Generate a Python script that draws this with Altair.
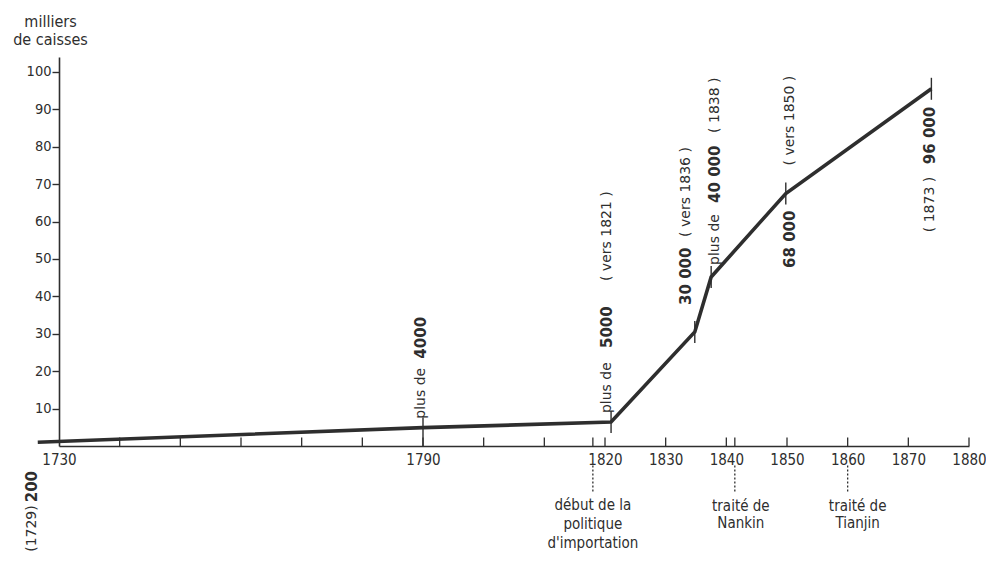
import altair as alt
import pandas as pd

# ---- data (year, thousands of chests) ----
years = [1726.5, 1790, 1821, 1834.8, 1837.5, 1849.8, 1873.8]
values = [1.0, 4.9, 6.4, 30.5, 45.2, 67.5, 95.5]

x_label_years = [1730, 1790, 1820, 1830, 1840, 1850, 1860, 1870, 1880]
y_tick_values = [10, 20, 30, 40, 50, 60, 70, 80, 90, 100]
minor_tick_years = [1740, 1750, 1760, 1770, 1780, 1790, 1800, 1810, 1818, 1820,
                    1830, 1840, 1841.4, 1850, 1860, 1870, 1880]
event_years = [1818, 1841.4, 1860]
event_texts = [["début de la", "politique", "d'importation"],
               ["traité de", "Nankin"],
               ["traité de", "Tianjin"]]
ann_labels = ["(1729)", "200", "plus de", "4000", "plus de", "5000", "( vers 1821 )",
              "30 000", "( vers 1836 )", "plus de", "40 000", "( 1838 )",
              "( vers 1850 )", "68 000", "96 000", "( 1873 )"]
y_title = ["milliers", "de caisses"]

INK = "#2e2e2e"
FONT = "DejaVu Sans Condensed"

xs = alt.Scale(domain=[1730, 1880], nice=False, zero=False)
ys = alt.Scale(domain=[0, 104], nice=False, zero=False)

x_axis = alt.Axis(values=x_label_years, ticks=False, tickSize=0, grid=False,
                  labelPadding=6, labelFontSize=15, labelFont=FONT,
                  labelColor=INK, domainColor=INK, domainWidth=1.6,
                  format="d", title=None, labelFlush=False)
y_axis = alt.Axis(values=y_tick_values, grid=False, tickSize=7, tickColor=INK,
                  tickWidth=1.4, labelPadding=1, labelFontSize=14.5, labelFont=FONT,
                  labelColor=INK, domainColor=INK, domainWidth=1.6,
                  title=y_title, titleAngle=0, titleAlign="center",
                  titleBaseline="alphabetic", titleX=-9, titleY=-31,
                  titleFont=FONT, titleFontSize=16, titleFontWeight="normal",
                  titleColor=INK, titleLineHeight=18)

X = alt.X("year:Q", scale=xs, axis=x_axis)
Y = alt.Y("value:Q", scale=ys, axis=y_axis)

series = pd.DataFrame({"year": years, "value": values})

line = alt.Chart(series).mark_line(color=INK, strokeWidth=3.6, strokeJoin="miter").encode(
    x=X, y=Y)

minor = alt.Chart(pd.DataFrame({"year": minor_tick_years})).mark_rule(
    color=INK, strokeWidth=1.3).encode(x=X, y=alt.datum(0, scale=ys), y2=alt.datum(2.3))

p1 = alt.Chart(series.iloc[[1]]).mark_rule(color=INK, strokeWidth=1.4).encode(
    x=X, y=alt.datum(0), y2=alt.datum(7.6))

pticks = alt.Chart(series.iloc[2:]).mark_tick(
    orient="vertical", size=22, thickness=1.4, color=INK, opacity=1).encode(x=X, y=Y)

events = pd.DataFrame({"year": event_years})
dashes = alt.Chart(events).mark_rule(color=INK, strokeWidth=1.3, strokeDash=[2, 2]).encode(
    x=X, y=alt.datum(-5.2), y2=alt.datum(-12.2))


def event_label(i, dx, dy, lh):
    df = pd.DataFrame({"year": [event_years[i]], "label": [event_texts[i]]})
    return alt.Chart(df).mark_text(
        align="center", baseline="top", xOffset=dx, yOffset=dy, lineHeight=lh,
        font=FONT, fontSize=15, color=INK).encode(x=X, y=alt.datum(0), text="label")


def rot(i, k, bold, align, dx, dy):
    df = pd.DataFrame({"year": [years[i]], "value": [values[i]], "label": [ann_labels[k]]})
    return alt.Chart(df).mark_text(
        angle=270, align=align, baseline="middle", xOffset=dx, yOffset=dy,
        font="DejaVu Sans", fontSize=15 if bold else 14,
        fontWeight="bold" if bold else "normal", color=INK).encode(x=X, y=Y, text="label:N")


anns = [
    rot(0, 0, False, "right", -6, 63),
    rot(0, 1, True, "left", -6, 60),
    rot(1, 2, False, "left", -2, -9),
    rot(1, 3, True, "left", -2, -69),
    rot(2, 4, False, "left", -4, -9),
    rot(2, 5, True, "left", -4, -74),
    rot(2, 6, False, "left", -4, -141),
    rot(3, 7, True, "left", -9, -27),
    rot(3, 8, False, "left", -9, -95),
    rot(4, 9, False, "left", 4, -12),
    rot(4, 10, True, "left", 4, -74),
    rot(4, 11, False, "left", 4, -144),
    rot(5, 12, False, "left", 4, -28),
    rot(5, 13, True, "right", 4, 17),
    rot(6, 14, True, "right", -1, 18),
    rot(6, 15, False, "right", -1, 88),
]

chart = alt.layer(
    line, minor, p1, pticks, dashes,
    event_label(0, 0, 52, 19),
    event_label(1, 6, 53, 17),
    event_label(2, 10, 53, 17),
    *anns,
).properties(
    width=910, height=389,
    autosize=alt.AutoSizeParams(type="none"),
    padding={"left": 51, "top": 49, "right": 17, "bottom": 110},
    background="white",
).configure_view(stroke=None)

chart.save("out.html", embed_options={"renderer": "svg", "actions": False})
